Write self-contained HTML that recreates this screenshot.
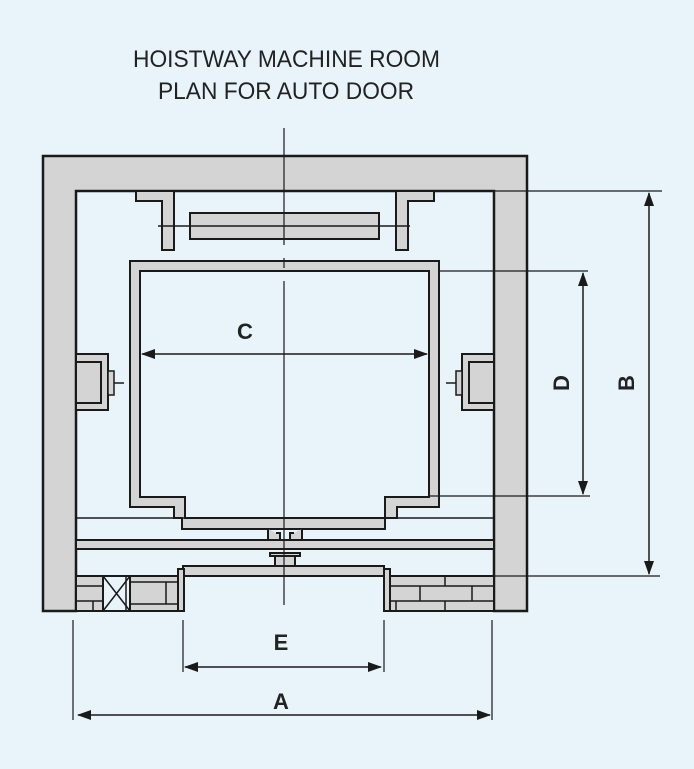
<!DOCTYPE html>
<html><head><style>
html,body{margin:0;padding:0;background:#e8f3fa;}
svg{display:block;}
text{font-family:"Liberation Sans",Arial,sans-serif;fill:#222;}
</style></head><body>
<svg width="694" height="769" viewBox="0 0 694 769" xmlns="http://www.w3.org/2000/svg">
<rect width="694" height="769" fill="#e8f3fa"/>
<defs>
<marker id="ar" markerWidth="10" markerHeight="10" refX="9" refY="5" orient="auto-start-reverse" markerUnits="userSpaceOnUse"><path d="M0,0 L14,5 L0,10 Z" fill="#1a1a1a"/></marker>
<marker id="a2" viewBox="0 0 14 10" markerWidth="14" markerHeight="10" refX="13" refY="5" orient="auto-start-reverse" markerUnits="userSpaceOnUse"><path d="M0,0 L14,5 L0,10 Z" fill="#1a1a1a"/></marker>
</defs>
<text x="133" y="67" font-size="24" textLength="307" lengthAdjust="spacingAndGlyphs">HOISTWAY MACHINE ROOM</text>
<text x="158" y="99" font-size="24" textLength="256" lengthAdjust="spacingAndGlyphs">PLAN FOR AUTO DOOR</text>

<g stroke="#1a1a1a" stroke-width="2.5" fill="#d4d4d4">
<!-- hoistway walls -->
<path d="M43,156 H527 V611 H494 V191 H76 V611 H43 Z"/>
<!-- brackets -->
<path d="M136,191 H174 V250 H162 V201 H136 Z" stroke-width="2"/>
<path d="M434,191 H396 V250 H408 V201 H434 Z" stroke-width="2"/>
<rect x="190" y="213" width="189" height="26" stroke-width="2"/>
<!-- car -->
<path fill-rule="evenodd" stroke-width="2" d="M130,261 H439 V507 H397 V518 H385 V529 H182 V518 H174 V507 H130 Z M140,271 V497 H185 V518 H385 V497 H429 V271 Z"/>
<!-- side guides -->
<rect x="76" y="354" width="32" height="56" stroke-width="2"/>
<rect x="76" y="362" width="25" height="41" stroke-width="2"/>
<rect x="108" y="371" width="6" height="24" stroke-width="1.5"/>
<rect x="462" y="354" width="32" height="56" stroke-width="2"/>
<rect x="469" y="362" width="25" height="41" stroke-width="2"/>
<rect x="456" y="371" width="6" height="24" stroke-width="1.5"/>
<!-- sill bar -->
<rect x="76" y="540" width="418" height="9" stroke-width="2"/>
<path d="M268,529 V540 H280 V533 H276 M302,529 V540 H290 V533 H294" stroke-width="2" fill="#d4d4d4"/>
<rect x="270" y="553" width="30" height="3" stroke-width="2"/>
<rect x="275" y="556" width="20" height="11" stroke-width="2"/>
<rect x="183" y="566" width="201" height="10" stroke-width="2"/>
<!-- jambs -->
<rect x="178" y="569" width="6" height="42" stroke-width="2"/>
<rect x="384" y="569" width="6" height="42" stroke-width="2"/>
<!-- left brick -->
<rect x="76" y="576" width="102" height="35" stroke-width="2"/>
<rect x="103" y="576" width="27" height="35" fill="#e8f3fa" stroke-width="2"/>
<rect x="390" y="576" width="104" height="35" stroke-width="2"/>
</g>
<g stroke="#1a1a1a" stroke-width="1.5" fill="none">
<path d="M103,576 L130,611 M130,576 L103,611"/>
<path d="M76,586 H103 M130,582 H178 M76,601 H103 M130,604 H178 M126,576 V611 M93,601 V611 M166,582 V604"/>
<path d="M390,586 H494 M390,601 H494 M445,576 V586 M420,586 V601 M472,586 V601 M396,601 V611 M445,601 V611"/>
<path d="M76,576 H178" stroke-dasharray="14,5"/>
<!-- lines -->
<path d="M76,518 H494"/>
<path d="M158,226 H410"/>
<path d="M284,128 V245 M284,258 V268 M284,281 V605" stroke-width="1.2"/>
<path d="M114,383 H124 M456,383 H446"/>
<!-- dims -->
<path d="M494,191 H662 M390,576 H660 M439,271 H588 M429,496 H590" stroke-width="1.2"/>
<path d="M649,193 V574" marker-start="url(#a2)" marker-end="url(#a2)" stroke-width="1.5"/>
<path d="M583,273 V494" marker-start="url(#a2)" marker-end="url(#a2)" stroke-width="1.5"/>
<path d="M142,354 H427" marker-start="url(#a2)" marker-end="url(#a2)" stroke-width="1.5"/>
<path d="M73,620 V720 M492,620 V720 M183,620 V672 M384,620 V672" stroke-width="1.2"/>
<path d="M185,667 H381" marker-start="url(#a2)" marker-end="url(#a2)" stroke-width="1.5"/>
<path d="M78,715 H490" marker-start="url(#a2)" marker-end="url(#a2)" stroke-width="1.5"/>
</g>
<text x="245" y="339" font-size="22" font-weight="bold" text-anchor="middle">C</text>
<text x="281" y="650" font-size="22" font-weight="bold" text-anchor="middle">E</text>
<text x="281" y="709" font-size="22" font-weight="bold" text-anchor="middle">A</text>
<text x="0" y="0" font-size="22" font-weight="bold" text-anchor="middle" transform="translate(569,383) rotate(-90)">D</text>
<text x="0" y="0" font-size="22" font-weight="bold" text-anchor="middle" transform="translate(634,383) rotate(-90)">B</text>
</svg>
</body></html>
